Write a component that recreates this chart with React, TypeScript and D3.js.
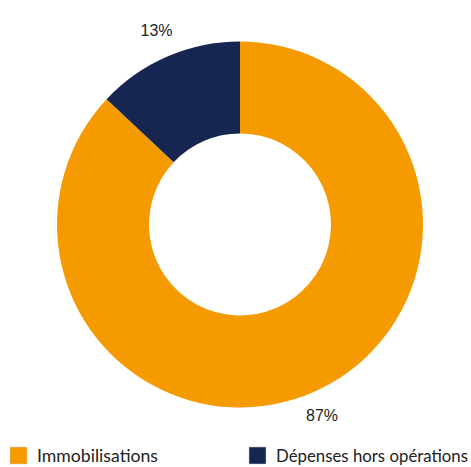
import React from "react";
import * as d3 from "d3";

const categories = ["Immobilisations", "Dépenses hors opérations"];
const values = [87, 13];
const labels = ["87%", "13%"];
const colors = ["#F59A00", "#172651"];

export default function App() {
  const width = 471, height = 467;
  const cx = 240, cy = 224.5, outerR = 183, innerR = 91;
  const pie = d3.pie<number>().sort(null).value(d => d)(values);
  const arc = d3.arc<d3.PieArcDatum<number>>().innerRadius(innerR).outerRadius(outerR);
  const labelPos = [[322, 420.5], [156.5, 36]];
  const legendX = [10, 249];
  const legendW = [121, 192];
  return (
    <svg width={width} height={height} style={{ position: "absolute", left: 0, top: 0 }}>
      <g transform={`translate(${cx},${cy})`}>
        {pie.map((p, i) => (
          <path key={i} d={arc(p) || ""} fill={colors[i]} />
        ))}
      </g>
      {pie.map((p, i) => (
        <text key={i} x={labelPos[i][0]} y={labelPos[i][1]} textAnchor="middle" fontFamily="Liberation Sans, Arial" fontSize={16} fill="#222">{labels[i]}</text>
      ))}
      {categories.map((c, i) => (
        <g key={c}>
          <rect x={legendX[i]} y={447} width={17} height={17} fill={colors[i]} stroke="#ccc" strokeWidth={0.5} />
          <text x={legendX[i] + 27} y={462} fontFamily="Lato, 'Open Sans', sans-serif" fontSize={16.9} textLength={legendW[i]} lengthAdjust="spacingAndGlyphs" fill="#222">{c}</text>
        </g>
      ))}
    </svg>
  );
}
